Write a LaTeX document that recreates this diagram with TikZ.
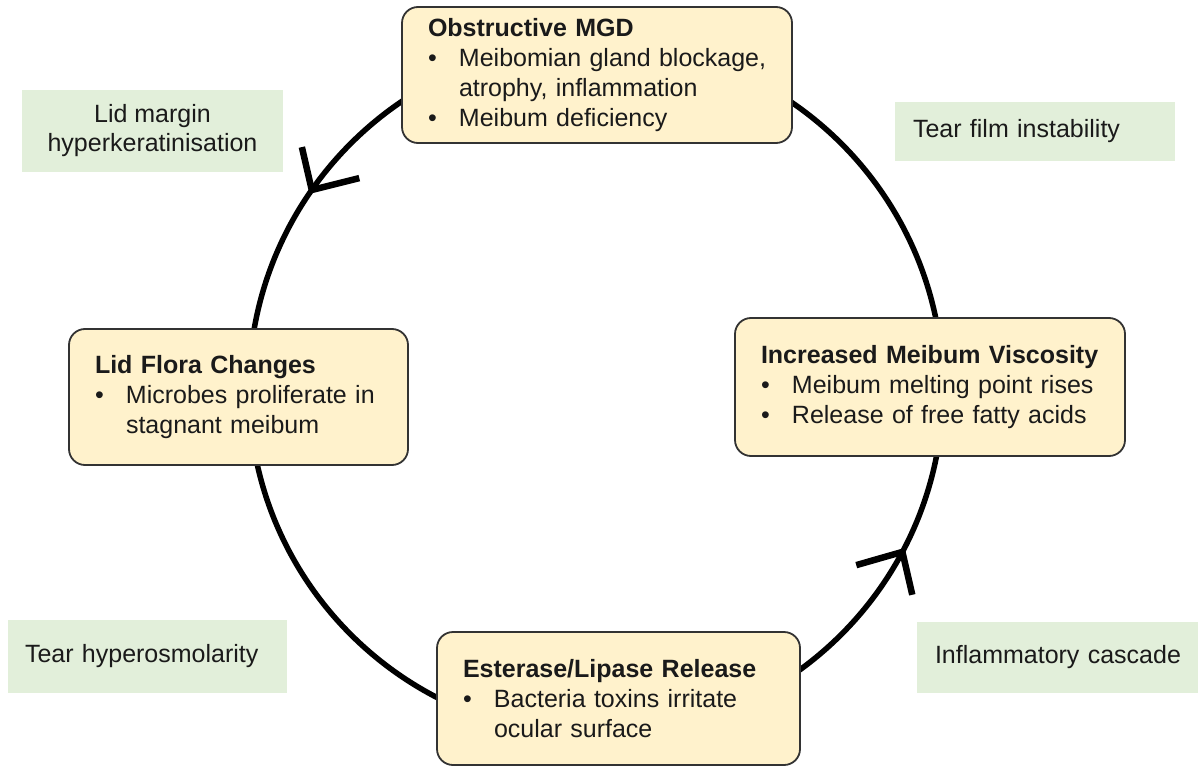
\documentclass[tikz,border=0pt]{standalone}
\usepackage{fontspec}
\setmainfont{Liberation Sans}
\usetikzlibrary{calc}
\definecolor{boxfill}{HTML}{FFF2CC}
\definecolor{greenfill}{HTML}{E2EFDA}
\definecolor{boxline}{HTML}{333333}
\definecolor{txt}{HTML}{1A1A1A}
\newcommand{\bul}{\makebox[31pt][l]{•}}
\newcommand{\ind}{\hspace*{31pt}}
\begin{document}
\begin{tikzpicture}[x=1pt,y=-1pt,
  ybox/.style={draw=boxline, line width=1.8pt, fill=boxfill, rounded corners=16pt,
    align=left, inner xsep=26pt, inner ysep=0pt, text=txt,
    font=\fontsize{25}{30}\selectfont},
  gbox/.style={fill=greenfill, inner ysep=0pt, text=txt,
    font=\fontsize{25}{29}\selectfont},
  cycle/.style={line width=5.5pt, draw=black},
  barb/.style={line width=6.5pt, draw=black, line join=round}]
\useasboundingbox (0,0) rectangle (1198,767);
\fill[white] (0,0) rectangle (1198,767);
% cycle
\coordinate (c) at (596,389);
\draw[cycle] (c) circle[radius=347];
% boxes
\node[ybox, text width=338pt, minimum height=136pt] (mgd) at (597,75)
  {\mbox{\textbf{Obstructive MGD}}\\
   \mbox{\bul Meibomian gland blockage,}\\
   \mbox{\ind atrophy, inflammation}\\
   \mbox{\bul Meibum deficiency}};
\node[ybox, text width=338pt, minimum height=138pt] (visc) at (930,387)
  {\mbox{\textbf{Increased Meibum Viscosity}}\\
   \mbox{\bul Meibum melting point rises}\\
   \mbox{\bul Release of free fatty acids}};
\node[ybox, text width=287pt, minimum height=136pt] (flora) at (238.5,397)
  {\mbox{\textbf{Lid Flora Changes}}\\
   \mbox{\bul Microbes proliferate in}\\
   \mbox{\ind stagnant meibum}};
\node[ybox, text width=311pt, minimum height=133pt] (ester) at (618.5,698.5)
  {\mbox{\textbf{Esterase/Lipase Release}}\\
   \mbox{\bul Bacteria toxins irritate}\\
   \mbox{\ind ocular surface}};
% green labels
\node[gbox, align=center, minimum width=261pt, minimum height=82pt, inner xsep=0pt] (lid) at (152.5,131)
  {Lid margin\\hyperkeratinisation};
\node[gbox, align=left, text width=244pt, inner xsep=18pt, minimum height=59pt] (tear) at (1035,131.5)
  {\mbox{Tear film instability}};
\node[gbox, align=left, text width=245pt, inner xsep=17pt, minimum height=73pt] (osmo) at (147.5,656.5)
  {\mbox{Tear hyperosmolarity}};
\node[gbox, align=left, text width=245pt, inner xsep=18pt, minimum height=71pt] (infl) at (1057.5,657.5)
  {\mbox{Inflammatory cascade}};
% arrowheads
\coordinate (t1) at ($(c)+(-145:347)$);
\coordinate (t2) at ($(c)+(28:347)$);
\draw[barb] ($(t1)+(-103:44)$) -- (t1) -- ($(t1)+(-14:49)$);
\draw[barb] ($(t2)+(164:48)$) -- (t2) -- ($(t2)+(77:44)$);
\end{tikzpicture}
\end{document}
